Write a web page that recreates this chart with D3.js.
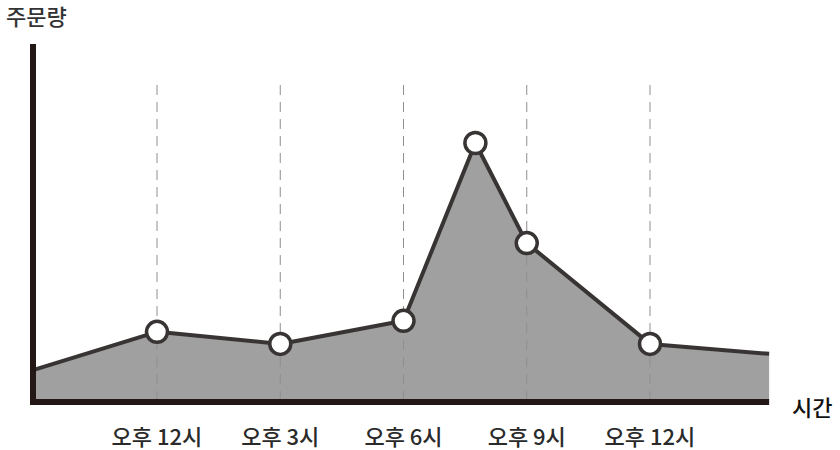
<!DOCTYPE html>
<html><head><meta charset="utf-8">
<script src="https://cdn.jsdelivr.net/npm/d3@7"></script>
<style>body{margin:0;background:#fff}svg{display:block}text{font-family:"Noto Sans CJK KR","Noto Sans",sans-serif}</style>
</head><body>
<svg id="c" width="840" height="450"></svg>
<script>
const hours = [9, 12, 15, 18, 19.75, 21, 24, 26.9];
const orders = [8.5, 19.2, 15.8, 22.3, 72.4, 44.2, 15.8, 13];
const markerHours = [12, 15, 18, 19.75, 21, 24];
const tickHours = [12, 15, 18, 21, 24];
const tickLabels = ["오후 12시", "오후 3시", "오후 6시", "오후 9시", "오후 12시"];
const yTitle = "주문량";
const xTitle = "시간";

const svg = d3.select("#c");
const x = d3.scaleLinear().domain([12, 24]).range([157, 650]);
const y = d3.scaleLinear().domain([0, 100]).range([400, 45]);
const data = hours.map((h, i) => ({h, v: orders[i]}));

// area
svg.append("path").datum(data)
  .attr("d", d3.area().x(d => x(d.h)).y0(y(0)).y1(d => y(d.v)))
  .attr("fill", "#a0a0a0");

// gridlines
svg.append("g").selectAll("line").data(tickHours).join("line")
  .attr("x1", d => x(d)).attr("x2", d => x(d))
  .attr("y1", 85).attr("y2", 400)
  .attr("stroke", "#8f8f8f").attr("stroke-width", 1)
  .attr("stroke-dasharray", "10,7");

// line
svg.append("path").datum(data)
  .attr("d", d3.line().x(d => x(d.h)).y(d => y(d.v)))
  .attr("fill", "none").attr("stroke", "#383434").attr("stroke-width", 4)
  .attr("stroke-linejoin", "round");

// markers
svg.append("g").selectAll("circle").data(data.filter(d => markerHours.includes(d.h))).join("circle")
  .attr("cx", d => x(d.h)).attr("cy", d => y(d.v)).attr("r", 10.5)
  .attr("fill", "#fff").attr("stroke", "#383434").attr("stroke-width", 3.5);

// axes
svg.append("line").attr("x1", 33).attr("x2", 33).attr("y1", 44).attr("y2", 405)
  .attr("stroke", "#231815").attr("stroke-width", 6);
svg.append("line").attr("x1", 30).attr("x2", x(hours[hours.length - 1])).attr("y1", 402).attr("y2", 402)
  .attr("stroke", "#231815").attr("stroke-width", 6);

// tick labels
svg.append("g").selectAll("text").data(tickHours).join("text")
  .attr("x", d => x(d)).attr("y", 445).attr("text-anchor", "middle")
  .attr("font-size", 22).attr("font-weight", 500).attr("fill", "#2a2a2a")
  .text((d, i) => tickLabels[i]);

svg.append("text").attr("x", 6).attr("y", 25).attr("font-size", 22).attr("font-weight", 500)
  .attr("fill", "#333").text(yTitle);
svg.append("text").attr("x", 792).attr("y", 416).attr("font-size", 22).attr("font-weight", 500)
  .attr("fill", "#111").text(xTitle);
</script>
</body></html>
